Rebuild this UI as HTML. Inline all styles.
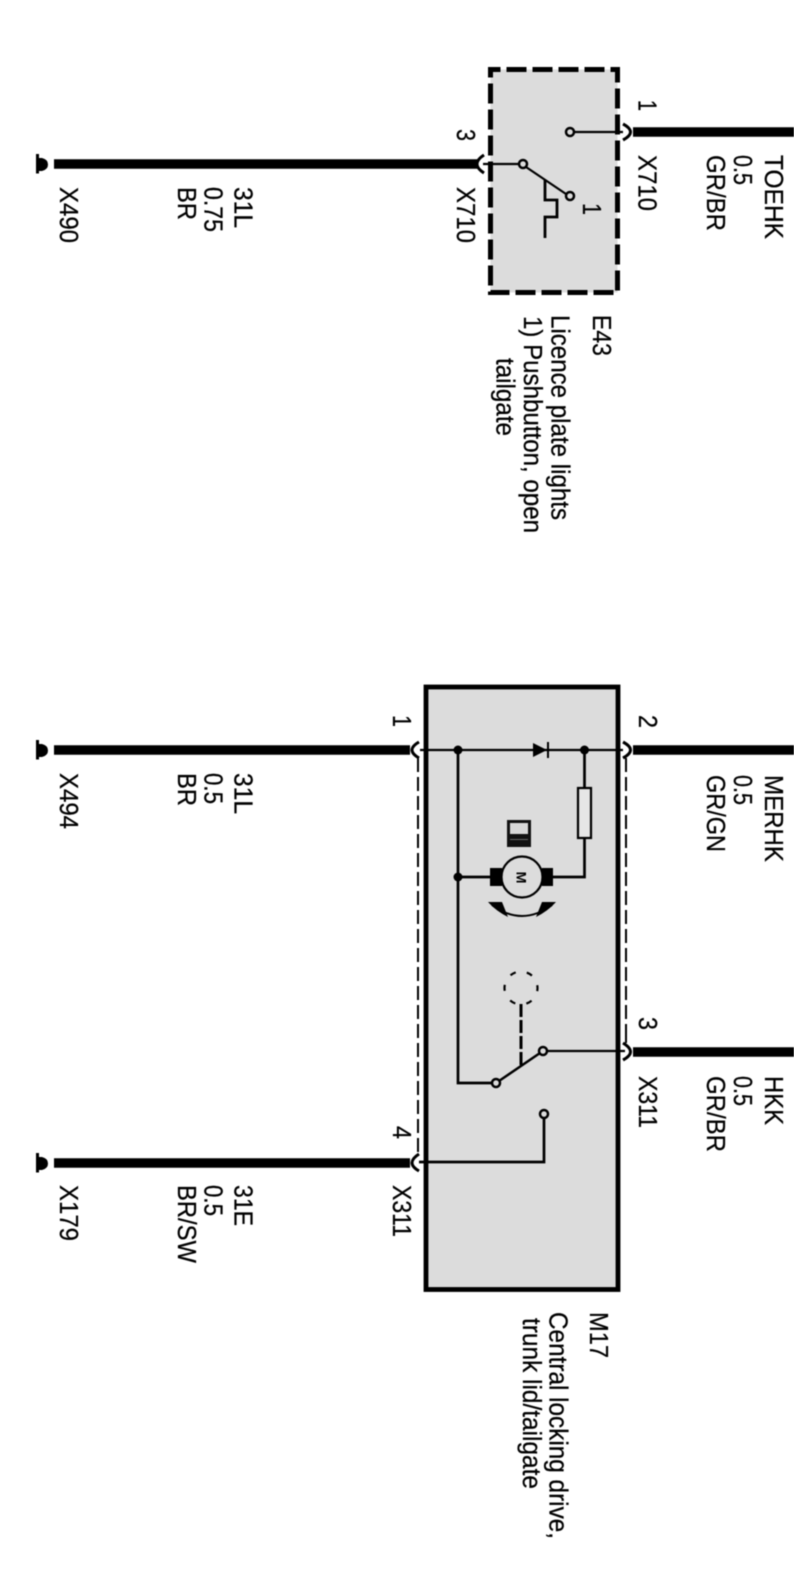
<!DOCTYPE html>
<html>
<head>
<meta charset="utf-8">
<style>
html,body{margin:0;padding:0;background:#fff;}
svg{display:block;filter:blur(.45px);}
text{font-family:"Liberation Sans",Arial,sans-serif;font-size:25.5px;fill:#000;stroke:#000;stroke-width:.25px;}
</style>
</head>
<body>
<svg width="794" height="1575" viewBox="0 0 794 1575" xmlns="http://www.w3.org/2000/svg">
<rect width="794" height="1575" fill="#fff"/>

<!-- E43 box -->
<rect x="490.5" y="69.5" width="127" height="223" fill="#dcdcdc" stroke="#000" stroke-width="5" stroke-dasharray="20 6" stroke-dashoffset="10"/>
<!-- M17 box -->
<rect x="426" y="687" width="192" height="602.500" fill="#dcdcdc" stroke="#000" stroke-width="4.800"/>

<!-- thick wires -->
<g fill="none" stroke="#000" stroke-width="9.500">
<path d="M633 132H794"/>
<path d="M54 164H477"/>
<path d="M54 750H410"/>
<path d="M633 750H794"/>
<path d="M633 1052H794"/>
<path d="M54 1163H410"/>
</g>

<!-- connector arcs -->
<g fill="none" stroke="#000" stroke-width="3">
<path d="M623 124Q638 132 623 140"/>
<path d="M484 155Q470 164 484 173"/>
<path d="M419 742Q405 750 419 758"/>
<path d="M623 742Q638 750 623 758"/>
<path d="M623 1043Q638 1052 623 1060"/>
<path d="M419 1154Q405 1163 419 1171"/>
</g>

<!-- grounds -->
<g fill="#000">
<path d="M36 154h3v4h3q6 1.500 6 6.500t-6 6.500h-3v2.500h-3z"/>
<path d="M36 740h3v4h3q6 1.500 6 6.500t-6 6.500h-3v2.500h-3z"/>
<path d="M36 1153h3v4h3q6 1.500 6 6.500t-6 6.500h-3v2.500h-3z"/>
</g>

<!-- E43 internals -->
<g fill="none" stroke="#000" stroke-width="2.200">
<path d="M574 132H623"/>
<path d="M483 164H519"/>
<path d="M526 167L566 194"/>
<path d="M545 180V200H557V217H545V238" stroke-width="2.800"/>
</g>
<g fill="#dcdcdc" stroke="#000" stroke-width="2.500">
<circle cx="570" cy="132" r="4"/>
<circle cx="523" cy="164" r="4"/>
<circle cx="570" cy="196" r="4"/>
</g>

<!-- M17 dashed harness -->
<g fill="none" stroke="#000" stroke-width="2">
<path d="M418 758V1142" stroke-dasharray="14 5"/>
<path d="M626 758V1036" stroke-dasharray="14 5"/>
<path d="M418 1142V1152"/>
<path d="M626 1036V1043"/>
</g>

<!-- M17 wiring -->
<g fill="none" stroke="#000" stroke-width="2.200">
<path d="M420 750H623"/>
<path d="M458 750V1083H492" stroke-width="2.700"/>
<path d="M584.500 750V877H552" stroke-width="2.700"/>
<path d="M458 877H490" stroke-width="2.700"/>
<path d="M499 1081L540 1053" stroke-width="2.500"/>
<path d="M547 1051H625"/>
<path d="M419 1162H544V1118" stroke-width="2.700"/>
</g>
<!-- nodes -->
<g fill="#000">
<circle cx="458" cy="750" r="4.500"/>
<circle cx="584.500" cy="750" r="4.500"/>
<circle cx="458" cy="877" r="4.500"/>
<!-- diode -->
<path d="M533 743L547 750L533 757Z"/>
<rect x="547" y="742" width="2" height="16"/>
<!-- brushes -->
<rect x="490" y="868" width="12" height="18"/>
<rect x="542" y="868" width="11" height="18"/>
</g>
<!-- resistor -->
<rect x="578" y="788" width="13" height="50" fill="#e6e6e6" stroke="#000" stroke-width="2.200"/>
<!-- motor -->
<circle cx="522" cy="877" r="20.500" fill="#dcdcdc" stroke="#000" stroke-width="2.200"/>
<text transform="translate(516.500,871.500) rotate(90)" style="font-size:14px;font-weight:bold;stroke-width:0" textLength="12" lengthAdjust="spacingAndGlyphs">M</text>
<!-- small symbol -->
<rect x="507" y="820" width="24" height="27" fill="#111"/>
<rect x="510" y="823" width="18" height="11" fill="#d8d8d8"/>
<rect x="510" y="839" width="18" height="1" fill="#666"/>
<!-- rotation arrow -->
<path d="M492 905Q522 927 552 905" fill="none" stroke="#000" stroke-width="2"/>
<path d="M488 902L502 902L508 917Q496 911 488 902Z" fill="#000"/>
<path d="M556 902L542 902L536 917Q548 911 556 902Z" fill="#000"/>
<!-- dashed actuator -->
<circle cx="521" cy="988" r="16.500" fill="none" stroke="#000" stroke-width="2.200" stroke-dasharray="6 11.280" transform="rotate(-10 521 988)"/>
<path d="M521 1004V1067" fill="none" stroke="#000" stroke-width="3" stroke-dasharray="13 3"/>
<g fill="#dcdcdc" stroke="#000" stroke-width="2.500">
<circle cx="496" cy="1083" r="4"/>
<circle cx="543" cy="1051" r="4"/>
<circle cx="544" cy="1114" r="4"/>
</g>

<!-- labels -->
<g transform="translate(1,0)">
<text transform="translate(637.500,100) rotate(90)" textLength="11" lengthAdjust="spacingAndGlyphs">1</text>
<text transform="translate(456,129) rotate(90)" textLength="12" lengthAdjust="spacingAndGlyphs">3</text>
<text transform="translate(582,203) rotate(90)" textLength="12" lengthAdjust="spacingAndGlyphs">1</text>
<text transform="translate(637.500,155) rotate(90)" textLength="56" lengthAdjust="spacingAndGlyphs">X710</text>
<text transform="translate(456,187) rotate(90)" textLength="56" lengthAdjust="spacingAndGlyphs">X710</text>
<text transform="translate(764,155) rotate(90)" textLength="84" lengthAdjust="spacingAndGlyphs">TOEHK</text>
<text transform="translate(733,155) rotate(90)" textLength="30" lengthAdjust="spacingAndGlyphs">0.5</text>
<text transform="translate(706,155) rotate(90)" textLength="76" lengthAdjust="spacingAndGlyphs">GR/BR</text>
<text transform="translate(59,187) rotate(90)" textLength="56" lengthAdjust="spacingAndGlyphs">X490</text>
<text transform="translate(233.500,187) rotate(90)" textLength="41" lengthAdjust="spacingAndGlyphs">31L</text>
<text transform="translate(203.500,187) rotate(90)" textLength="45" lengthAdjust="spacingAndGlyphs">0.75</text>
<text transform="translate(177,187) rotate(90)" textLength="33" lengthAdjust="spacingAndGlyphs">BR</text>
<text transform="translate(592,315) rotate(90)" textLength="41" lengthAdjust="spacingAndGlyphs">E43</text>
<text transform="translate(550.500,315) rotate(90)" textLength="205" lengthAdjust="spacingAndGlyphs">Licence plate lights</text>
<text transform="translate(523,316) rotate(90)" textLength="217" lengthAdjust="spacingAndGlyphs">1) Pushbutton, open</text>
<text transform="translate(495.500,358) rotate(90)" textLength="78" lengthAdjust="spacingAndGlyphs">tailgate</text>

<text transform="translate(392,715) rotate(90)" textLength="12" lengthAdjust="spacingAndGlyphs">1</text>
<text transform="translate(638,715) rotate(90)" textLength="13" lengthAdjust="spacingAndGlyphs">2</text>
<text transform="translate(638,1017) rotate(90)" textLength="13" lengthAdjust="spacingAndGlyphs">3</text>
<text transform="translate(392,1126) rotate(90)" textLength="13" lengthAdjust="spacingAndGlyphs">4</text>
<text transform="translate(59,773) rotate(90)" textLength="56" lengthAdjust="spacingAndGlyphs">X494</text>
<text transform="translate(233.500,773) rotate(90)" textLength="41" lengthAdjust="spacingAndGlyphs">31L</text>
<text transform="translate(203.500,773) rotate(90)" textLength="31" lengthAdjust="spacingAndGlyphs">0.5</text>
<text transform="translate(177,773) rotate(90)" textLength="33" lengthAdjust="spacingAndGlyphs">BR</text>
<text transform="translate(764,775) rotate(90)" textLength="87" lengthAdjust="spacingAndGlyphs">MERHK</text>
<text transform="translate(733,775) rotate(90)" textLength="30" lengthAdjust="spacingAndGlyphs">0.5</text>
<text transform="translate(706,775) rotate(90)" textLength="77" lengthAdjust="spacingAndGlyphs">GR/GN</text>
<text transform="translate(638,1076) rotate(90)" textLength="52" lengthAdjust="spacingAndGlyphs">X311</text>
<text transform="translate(764,1076) rotate(90)" textLength="49" lengthAdjust="spacingAndGlyphs">HKK</text>
<text transform="translate(733,1076) rotate(90)" textLength="30" lengthAdjust="spacingAndGlyphs">0.5</text>
<text transform="translate(706,1076) rotate(90)" textLength="76" lengthAdjust="spacingAndGlyphs">GR/BR</text>
<text transform="translate(392,1185) rotate(90)" textLength="52" lengthAdjust="spacingAndGlyphs">X311</text>
<text transform="translate(59,1185) rotate(90)" textLength="56" lengthAdjust="spacingAndGlyphs">X179</text>
<text transform="translate(233.500,1185) rotate(90)" textLength="41" lengthAdjust="spacingAndGlyphs">31E</text>
<text transform="translate(203.500,1185) rotate(90)" textLength="31" lengthAdjust="spacingAndGlyphs">0.5</text>
<text transform="translate(177,1185) rotate(90)" textLength="78" lengthAdjust="spacingAndGlyphs">BR/SW</text>
<text transform="translate(589,1312) rotate(90)" textLength="46" lengthAdjust="spacingAndGlyphs">M17</text>
<text transform="translate(548.500,1312) rotate(90)" textLength="227" lengthAdjust="spacingAndGlyphs">Central locking drive,</text>
<text transform="translate(522,1318) rotate(90)" textLength="171" lengthAdjust="spacingAndGlyphs">trunk lid/tailgate</text>
</g>
</svg>
</body>
</html>
